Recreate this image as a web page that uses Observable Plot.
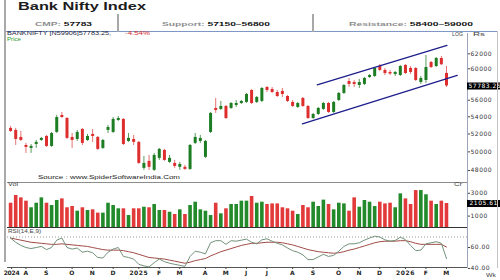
<!DOCTYPE html>
<html><head><meta charset="utf-8">
<script src="https://cdn.jsdelivr.net/npm/d3@7"></script>
<script src="https://cdn.jsdelivr.net/npm/@observablehq/plot@0.6"></script>
<style>
body{margin:0;background:#fff;}
#root{position:relative;width:500px;height:280px;overflow:hidden;background:#fff;font-family:"Liberation Sans",Arial,sans-serif;}
.abs{position:absolute;white-space:nowrap;transform-origin:0 50%;line-height:1;}
.pl{position:absolute;left:0;}
.ln{position:absolute;}
</style></head><body><div id="root"></div>
<script>
// ---- data (weekly candles, Jul 2024 - Mar 2026) ----
const open  = [52640,52410,51610,50710,50380,50820,51270,51720,50600,52180,54160,53800,51610,51380,52520,51270,51950,51610,50380,52410,52180,53570,53690,51160,51380,51050,48220,48970,48010,49290,50160,48860,48750,48330,48330,48110,50940,51160,49400,52180,55000,54880,55240,55000,55360,55600,55730,57210,55730,55850,57590,57340,56960,57090,56460,55730,55120,56220,55240,53800,54280,54880,55600,54520,55970,56840,58350,58220,57840,57970,58870,59000,60300,59780,59520,59250,59120,60440,60040,60040,58220,58480,60840,60300,61370,59390];
const high  = [52870,52640,52290,50940,50820,51270,51610,51840,52180,54160,54520,53920,52060,52410,52640,51950,52520,51720,51380,52990,53920,54040,53800,52060,51840,51160,49500,49610,49830,50380,50270,49610,49070,48860,48540,50820,52060,51840,51270,54520,56220,55850,55360,55730,55970,55970,56840,57340,56460,57590,57720,57590,57210,57460,56590,55970,55730,56340,55360,54400,55120,55730,55730,55850,56960,57970,58740,58480,58610,58870,59250,60170,60570,60040,59780,59650,60440,60570,60300,60170,59000,61780,60970,61510,61640,60300];
const low   = [52180,50710,51160,49830,49830,50380,51160,50490,50490,52060,53800,51380,50380,51160,50710,51160,51050,50160,50270,52060,52060,53450,50710,51050,50710,48640,48010,48010,47900,49070,48970,48750,48220,48010,48010,48010,50820,50940,49290,52060,54400,54760,53690,54880,55120,55480,55600,55480,55600,55730,56960,56840,56340,56340,55730,55120,55000,55120,53690,53690,54160,54760,54400,54400,55850,56710,57590,57590,57460,57840,58740,58870,59650,59120,59120,59000,59000,59250,59250,58350,57970,58100,60040,60170,60450,57590];
const close = [52290,51380,51270,50490,50600,51050,51500,50600,52060,53920,53920,51500,51270,52180,50940,51720,51720,50270,51270,52750,53690,53800,50820,51500,51050,48750,48750,48330,49610,50270,49070,49290,48430,48640,48110,50710,51610,51500,51160,54400,54760,55240,53800,55600,55600,55850,56710,55600,56340,57460,57210,56960,56460,56710,55850,55240,55600,55240,53800,54280,55000,55600,54520,55730,56840,57840,57970,57970,58220,58740,59120,60040,59780,59380,59320,59520,60300,59380,59520,58480,58740,60170,60170,61370,60531,57783.25];
const volume = [2130,2810,2600,2310,1730,2130,2600,2130,1930,2370,2510,1730,1840,1430,1730,1490,1550,1260,1260,2130,1930,1640,1640,1050,1640,1640,1780,1730,2020,1490,1490,1340,1140,1550,1140,1930,2220,1550,1430,1050,2130,1200,1640,2020,2020,2310,2310,2720,2130,2220,2020,2070,2070,1730,1640,1430,1140,1930,1730,2220,1840,2400,2020,1550,2130,2070,1430,2600,1780,2370,2220,1840,2220,2070,2130,1730,2950,2510,2020,3240,3240,2870,2310,2020,2310,2105.61];
const rsi = [69,65,62,60,59,60,61,58,60,67,69,60,58.5,59.5,55.5,56.5,55,50.5,50,55.5,58.5,60,51.5,50.5,49,44,42.5,41.5,45.5,49,46.5,45,44,43,42,51.5,56.5,55.5,54,64.5,66.5,66.5,63,66.5,66,67,68,65,63.5,67.3,68.3,66,64,62.5,59.5,57,55.5,53,48.5,48.5,51,53.5,51.5,52.5,56.5,61,63.5,63.5,64.5,67,69,70.8,70,67.3,66,66.7,69.8,67.5,62,57,57.5,63.5,64.5,65.5,64,49.5];
const rsiSignal = [69,68,67,66,65,64.5,64,63.5,63,63,63.5,63,62.5,62,61.5,61,60,59,58,57.5,57.5,57.5,57,56,55,53.5,52,50.5,50,49.5,49,48,47,46,45,46,47.5,48.5,49.5,52,54,56,57.5,59,60.5,62,63,64,64,64.5,65,65,65,64.5,63.5,62.5,61,59.5,58,57,56,55.5,55,54.5,55,56,57.5,58.5,60,61.5,63,64.5,65.5,66,66,66,66.5,66.5,65.5,64,63,63,63,63,63,60.5];
const upperChannelIdx = [59.8, 85.1];
const upperChannelPrice = [57930, 63150];
const lowerChannelIdx = [56.9, 87.1];
const lowerChannelPrice = [53180, 59125];
const priceTicks = [48000,50000,52000,54000,56000,60000,62000];
const volTicks = [1000,3000];
const rsiTicks = [40,60];
const rsiLevel = [70];
const monthTickIdx = [0.2,3,7,12,16,20,25,29,33,38,42,46,50,55,59,64,68,72,77,81,85];
const monthLabels = ["2024","A","S","O","N","D","2025","F","M","A","M","J","J","A","S","O","N","D","2026","F","M"];

// ---- build ----
const bars = close.map((c,i)=>({i, o:open[i], h:high[i], l:low[i], c, v:volume[i], up:c>=open[i]}));
const GREEN="#1d7d23", RED="#de2d2d", GREEN_W="#5f9a5f", RED_W="#e77272";
const VGREEN="#228a2a", VRED="#e23a3a";
const W=500, ML=7, MR=33;
const XD=[-0.6, 89.1];
const kx=(XD[1]-XD[0])/(W-ML-MR);
const xEdge=XD[1]+MR*kx;
const style={fontFamily:"DejaVu Sans",fontSize:"6px",letterSpacing:"0.5px",background:"transparent",color:"#333",overflow:"visible"};
const lastClose = close[close.length-1];
const lastVol = volume[volume.length-1];

const root=document.getElementById("root");

const pricePlot = Plot.plot({
  width:W, height:150, marginTop:1, marginBottom:0, marginLeft:ML, marginRight:MR,
  style, x:{type:"linear",domain:XD,axis:null},
  y:{type:"log",domain:[46750,64830],axis:null},
  color:{type:"identity"},
  marks:[
    Plot.frame({anchor:"bottom",stroke:"#8c8c8c"}),
    Plot.frame({anchor:"right",stroke:"#9aa6bd"}),
    Plot.ruleX(bars,{x:"i",y1:"l",y2:"h",stroke:d=>d.up?GREEN_W:RED_W,strokeWidth:1}),
    Plot.ruleX(bars,{x:"i",y1:d=>Math.min(d.o,d.c),y2:d=>Math.max(d.o,d.c),stroke:d=>d.up?GREEN:RED,strokeWidth:3}),
    Plot.line(upperChannelIdx,{x:d=>d,y:(d,i)=>upperChannelPrice[i],stroke:"#1e1e8c",strokeWidth:1.3}),
    Plot.line(lowerChannelIdx,{x:d=>d,y:(d,i)=>lowerChannelPrice[i],stroke:"#1e1e8c",strokeWidth:1.3}),
    Plot.axisY({anchor:"right",ticks:priceTicks,tickFormat:d=>String(d),tickSize:2,tickPadding:1,label:null,stroke:"#444",fill:"#333"}),
    Plot.ruleY([lastClose],{x1:XD[1],x2:xEdge,stroke:"#000",strokeWidth:7}),
    Plot.text([lastClose],{x:XD[1],y:d=>d,text:d=>d3.format(".2f")(d),textAnchor:"start",dx:1,fill:"#fff"})
  ]
});
pricePlot.classList.add("pl"); pricePlot.style.top="32px"; root.appendChild(pricePlot);

const volPlot = Plot.plot({
  width:W, height:46, marginTop:0, marginBottom:1, marginLeft:ML, marginRight:MR,
  style, x:{type:"linear",domain:XD,axis:null},
  y:{domain:[0,3947],axis:null},
  color:{type:"identity"},
  marks:[
    Plot.frame({anchor:"right",stroke:"#9aa6bd"}),
    Plot.ruleX(bars,{x:"i",y1:0,y2:"v",stroke:d=>d.up?VGREEN:VRED,strokeWidth:3.6}),
    Plot.ruleY([0],{stroke:"#333"}),
    Plot.axisY({anchor:"right",ticks:volTicks,tickFormat:d=>String(d),tickSize:2,tickPadding:1,label:null,stroke:"#444",fill:"#333"}),
    Plot.ruleY([lastVol],{x1:XD[1],x2:xEdge,stroke:"#000",strokeWidth:7}),
    Plot.text([lastVol],{x:XD[1],y:d=>d,text:d=>d3.format(".2f")(d),textAnchor:"start",dx:2,fill:"#fff"})
  ]
});
volPlot.classList.add("pl"); volPlot.style.top="182px"; root.appendChild(volPlot);

const rsiPlot = Plot.plot({
  width:W, height:52, marginTop:0, marginBottom:13, marginLeft:ML, marginRight:MR,
  style, x:{type:"linear",domain:XD,axis:null},
  y:{domain:[40.95,78.1],axis:null},
  marks:[
    Plot.ruleY(rsiLevel,{stroke:"#999",strokeDasharray:"1,2"}),
    Plot.frame({anchor:"bottom",stroke:"#555"}),
    Plot.frame({anchor:"right",stroke:"#9aa6bd"}),
    Plot.lineY(rsiSignal,{x:(d,i)=>i,y:d=>d,stroke:"#a04c46",strokeWidth:1}),
    Plot.lineY(rsi,{x:(d,i)=>i,y:d=>d,stroke:"#72927a",strokeWidth:1}),
    Plot.axisY({anchor:"right",ticks:rsiTicks,tickFormat:d=>d.toFixed(2),tickSize:2,tickPadding:1,label:null,stroke:"#444",fill:"#333"}),
    Plot.axisX({anchor:"bottom",ticks:monthTickIdx,tickFormat:d=>monthLabels[monthTickIdx.indexOf(d)],tickSize:2,tickPadding:1,label:null,fontWeight:"bold",fill:"#222",stroke:"#444",style:"letter-spacing:0.2px"})
  ]
});
rsiPlot.classList.add("pl"); rsiPlot.style.top="228px"; root.appendChild(rsiPlot);
// tighten the first (year) tick label so it doesn't collide with the next one
rsiPlot.querySelectorAll("text").forEach(t=>{ if(t.textContent==="2024") t.setAttribute("letter-spacing","-0.2"); });

// ---- frame decorations ----
function line(l,t,w,h,c){const d=document.createElement("div");d.className="ln";Object.assign(d.style,{left:l+"px",top:t+"px",width:w+"px",height:h+"px",background:c});root.appendChild(d);}
line(4,0,2,262,"#a9a9a9");
line(6,31,492,1,"#7f97c4");
line(497,31,1,237,"#c4c4c4");
line(117,14,2,18,"#a8a8a8");
line(312,14,2,18,"#a8a8a8");

// ---- text labels ----
function txt(html,x,base,w,size,opt={}){
  const s=document.createElement("span");s.className="abs";s.innerHTML=html;
  s.style.fontSize=size+"px";s.style.fontWeight=opt.weight||"normal";s.style.color=opt.color||"#222";
  s.style.left=x+"px";s.style.top=(base-0.85*size)+"px";
  root.appendChild(s);
  const m=s.getBoundingClientRect().width;
  if(w&&m>0)s.style.transform=`scaleX(${w/m})`;
}
txt("Bank Nifty Index",18,10,128,10,{weight:"bold",color:"#1c1c1c"});
txt('<span style="color:#8e8e8e">CMP: </span>57783',35,26,57,6,{weight:"bold",color:"#111"});
txt('<span style="color:#8e8e8e">Support: </span>57150–56800',162,26,108,6,{weight:"bold",color:"#111"});
txt('<span style="color:#8e8e8e">Resistance: </span>58400–59000',349,26,124,6,{weight:"bold",color:"#111"});
txt("BANKNIFTY [N59906]57783.25,",7,36,104,5.5,{color:"#1d2440"});
txt("-4.54%",125,36,25,5.5,{color:"#d42a2a"});
txt("Price",7,40.8,14,5,{color:"#2f9a2f"});
txt("LOG",452,37,11,5.5,{color:"#444"});
txt("Rs",473,37,12,5.5,{color:"#444"});
txt("Source : www.SpiderSoftwareIndia.Com",38,179.5,142,5.5,{color:"#222"});
txt("Vol",8,187,10,5.5,{color:"#444"});
txt("Cr",454,187,8,5.5,{color:"#444"});
txt("RSI(14,E,9)",8,233.5,33,5.5,{color:"#444"});
txt("Wk",486,277.5,10,5.5,{color:"#444"});
</script></body></html>
